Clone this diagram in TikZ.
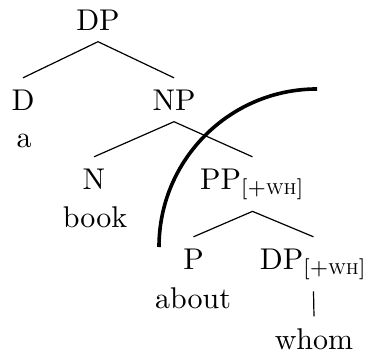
\documentclass[tikz,border=0pt]{standalone}
\usepackage{amsmath}
\newcommand{\whfeat}{_{[+\text{\textsc{wh}}]}}
\begin{document}
\begin{tikzpicture}[x=0.3333pt,y=0.3333pt,
  cat/.style={anchor=base,inner sep=3.7pt},
  word/.style={anchor=base,inner sep=3.7pt},
  barrier/.style={line width=1.2pt}]
\useasboundingbox (0,0) rectangle (370,354);
\node[cat] (dp) at (98,324) {DP};
\node[cat] (d) at (23,244) {D};
\node[cat] (np) at (174,244) {NP};
\node[word] (a) at (24,207) {a};
\node[cat] (n) at (94,165) {N};
\node[cat] (pp) at (252.5,165) {$\text{PP}\whfeat$};
\node[word] (book) at (95,127) {book};
\node[cat] (p) at (193.5,85) {P};
\node[cat] (dpwh) at (313.5,85) {$\text{DP}\whfeat$};
\node[word] (about) at (193,46) {about};
\node[word] (whom) at (314,5) {whom};
\draw (d.north) -- (dp.south) -- (np.north);
\draw (n.north) -- (np.south) -- (pp.north);
\draw (p.north) -- (pp.south) -- (dpwh.north);
\draw (dpwh.south) -- (whom.north);
\coordinate (arcstart) at (159,107);
\draw[barrier] (arcstart) arc[start angle=180,end angle=90,radius=52.67pt];
\end{tikzpicture}
\end{document}
